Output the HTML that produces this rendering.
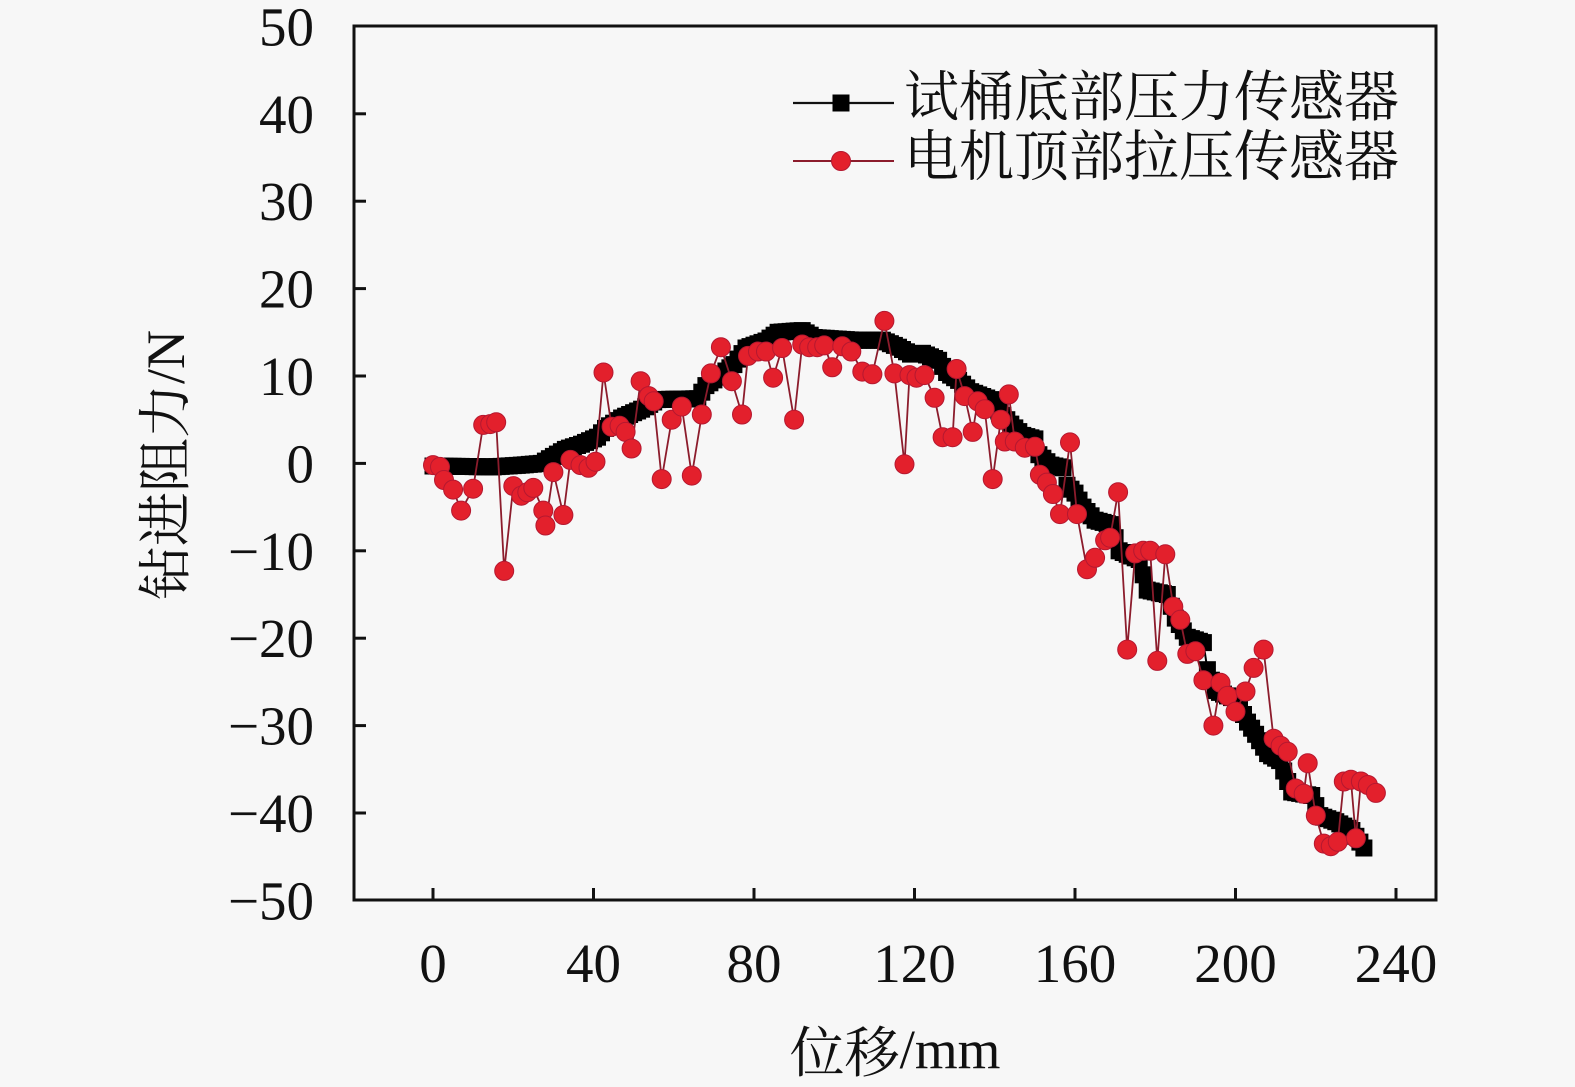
<!DOCTYPE html>
<html>
<head>
<meta charset="utf-8">
<style>
  html,body{margin:0;padding:0;background:#f7f7f7;}
  body{width:1575px;height:1087px;overflow:hidden;}
  svg{display:block;}
  .tick{font-family:"Liberation Serif","Noto Serif CJK SC",serif;font-size:55px;fill:#111;}
  .cjk{font-family:"Liberation Serif","Noto Serif CJK SC",serif;fill:#111;}
</style>
</head>
<body>
<svg id="chart" xmlns="http://www.w3.org/2000/svg" width="1575" height="1087" viewBox="0 0 1575 1087">
  <rect x="0" y="0" width="1575" height="1087" fill="#f7f7f7"/>
  <g id="series"></g>
  <!-- frame -->
  <rect x="354" y="26" width="1082" height="874" fill="none" stroke="#111" stroke-width="3"/>
  <g id="ticks" stroke="#111" stroke-width="3"></g>
  <g id="labels"></g>

  <!-- axis titles -->
  <text class="cjk" x="895" y="1068" text-anchor="middle" font-size="55"><tspan dy="4">位移</tspan><tspan dy="-4">/mm</tspan></text>
  <text class="cjk" transform="translate(184,465) rotate(-90)" x="0" y="0" text-anchor="middle" font-size="54">钻进阻力/N</text>

  <!-- legend -->
  <line x1="793" y1="103" x2="894" y2="103" stroke="#111" stroke-width="2.2"/>
  <rect x="832.5" y="94.5" width="17" height="17" fill="#000"/>
  <text class="cjk" x="904" y="116" font-size="55">试桶底部压力传感器</text>
  <line x1="793" y1="161" x2="894" y2="161" stroke="#8c1c2c" stroke-width="2"/>
  <circle cx="841" cy="161" r="9.5" fill="#e3202c" stroke="#b51830" stroke-width="1"/>
  <text class="cjk" x="904" y="175.5" font-size="55">电机顶部拉压传感器</text>
</svg>
<script>
(function(){
  var NS="http://www.w3.org/2000/svg";
  function X(v){return 433+v*4.0125;}
  function Y(v){return 463.4-v*8.74;}
  function el(tag,attrs,parent,text){
    var e=document.createElementNS(NS,tag);
    for(var k in attrs)e.setAttribute(k,attrs[k]);
    if(text!==undefined)e.textContent=text;
    parent.appendChild(e);return e;
  }
  var ticks=document.getElementById('ticks');
  var labels=document.getElementById('labels');
  // y ticks
  for(var v=-50;v<=50;v+=10){
    var y=Y(v);
    if(v>-50&&v<50) el('line',{x1:354,y1:y,x2:366,y2:y},ticks);
    var s=(v<0?'\u2212'+(-v):''+v);
    el('text',{x:314,y:(y+19).toFixed(1),'text-anchor':'end','class':'tick'},labels,s);
  }
  // x ticks
  for(var xv=0;xv<=240;xv+=40){
    var x=X(xv);
    el('line',{x1:x,y1:900,x2:x,y2:888},ticks);
    el('text',{x:x.toFixed(1),y:982,'text-anchor':'middle','class':'tick'},labels,''+xv);
  }

  var series=document.getElementById('series');
  // black series knots
  var K=[[0,-0.3],[15,-0.4],[22,-0.2],[27,0],[30,0.8],[33,1.6],[37,2.2],[41,3.0],[43,4.0],[47,5.2],[52,6.2],[56,7.3],[66,7.4],[68,8.9],[72,10.2],[75,11.3],[78,13.2],[83,14],[86,15],[92,15.2],[95,14.4],[105,14.1],[112,14.1],[116,13.3],[119,12.5],[122,12.6],[126,11.8],[128,10.4],[131,9.5],[134,8.2],[139,7.3],[141,6],[144,4.5],[147,3.2],[150,2.8],[151,1],[154,-0.2],[157,-0.5],[158,-2.5],[160,-3.4],[162,-5],[165,-6.5],[169,-7],[171,-10],[176,-11],[178,-14.5],[183,-15],[185,-17.7],[188,-19.9],[192,-20.5],[193,-23.6],[195,-26],[200,-27],[203,-29.6],[205,-31],[208,-33.2],[211,-34],[214,-37.6],[219,-38],[221,-40.3],[225,-41],[229,-42],[232,-44]];
  function interp(v){
    for(var i=0;i<K.length-1;i++){
      if(v>=K[i][0]&&v<=K[i+1][0]){
        var t=(v-K[i][0])/(K[i+1][0]-K[i][0]);
        return K[i][1]+t*(K[i+1][1]-K[i][1]);
      }
    }
    return K[K.length-1][1];
  }
  var bp=[];
  for(var b=0;b<=232;b+=1){bp.push([X(b),Y(interp(b))]);}
  el('polyline',{points:bp.map(function(p){return p[0].toFixed(1)+','+p[1].toFixed(1);}).join(' '),fill:'none',stroke:'#000','stroke-width':2},series);
  var bg=el('g',{fill:'#000'},series);
  bp.forEach(function(p){el('rect',{x:(p[0]-8.5).toFixed(1),y:(p[1]-8.5).toFixed(1),width:17,height:17},bg);});

  // red series
  var R=[[0,-0.2],[1.75,-0.4],[2.75,-1.9],[5,-3.0],[7,-5.4],[10,-2.9],[12.5,4.4],[14.25,4.5],[15.75,4.7],[17.75,-12.3],[20,-2.6],[22,-3.7],[23.5,-3.3],[25,-2.8],[27.5,-5.4],[28,-7.1],[30,-1.0],[32.5,-5.9],[34.25,0.4],[36.75,-0.2],[38.75,-0.5],[40.5,0.2],[42.5,10.4],[44.5,4.2],[46.5,4.3],[48,3.6],[49.5,1.7],[51.75,9.4],[53.75,7.7],[55,7.1],[57,-1.8],[59.5,5.0],[62,6.5],[64.5,-1.4],[67,5.6],[69.25,10.3],[71.75,13.3],[74.5,9.4],[77,5.6],[78.5,12.3],[81,12.8],[83,12.8],[84.75,9.8],[87,13.2],[90,5.0],[92,13.6],[93.75,13.3],[95.75,13.3],[97.5,13.5],[99.5,11.0],[102,13.4],[104.25,12.8],[107,10.5],[109.5,10.2],[112.5,16.3],[115,10.3],[117.5,-0.1],[118.75,10.1],[120.5,9.8],[122.5,10.1],[125,7.5],[127,3.0],[129.5,3.0],[130.5,10.8],[132.5,7.7],[134.5,3.6],[135.75,7.1],[137.5,6.2],[139.5,-1.8],[141.5,5.0],[142.5,2.5],[143.5,7.9],[145,2.5],[147.5,1.8],[150,1.9],[151.25,-1.3],[153,-2.2],[154.5,-3.5],[156.25,-5.8],[158.75,2.4],[160.5,-5.8],[163,-12.1],[165,-10.8],[167.5,-8.8],[168.75,-8.5],[170.75,-3.3],[173,-21.3],[175,-10.3],[177,-10.0],[178.75,-10.0],[180.5,-22.6],[182.5,-10.4],[184.5,-16.4],[186.25,-17.9],[188,-21.8],[190,-21.5],[192,-24.8],[194.5,-30.0],[196.25,-25.1],[198,-26.6],[200,-28.4],[202.5,-26.1],[204.5,-23.4],[207,-21.3],[209.5,-31.5],[211.25,-32.3],[213,-33.0],[215,-37.2],[217,-37.8],[218,-34.3],[220,-40.3],[222,-43.5],[223.75,-43.8],[225.5,-43.3],[227,-36.4],[228.75,-36.2],[230,-42.9],[231.25,-36.4],[233,-36.8],[235,-37.7]];
  var rp=R.map(function(d){return [X(d[0]),Y(d[1])];});
  el('polyline',{points:rp.map(function(p){return p[0].toFixed(1)+','+p[1].toFixed(1);}).join(' '),fill:'none',stroke:'#8c1c2c','stroke-width':1.8},series);
  var rg=el('g',{fill:'#e3202c',stroke:'#b51830','stroke-width':1},series);
  rp.forEach(function(p){el('circle',{cx:p[0].toFixed(1),cy:p[1].toFixed(1),r:9.5},rg);});
})();
</script>
</body>
</html>
